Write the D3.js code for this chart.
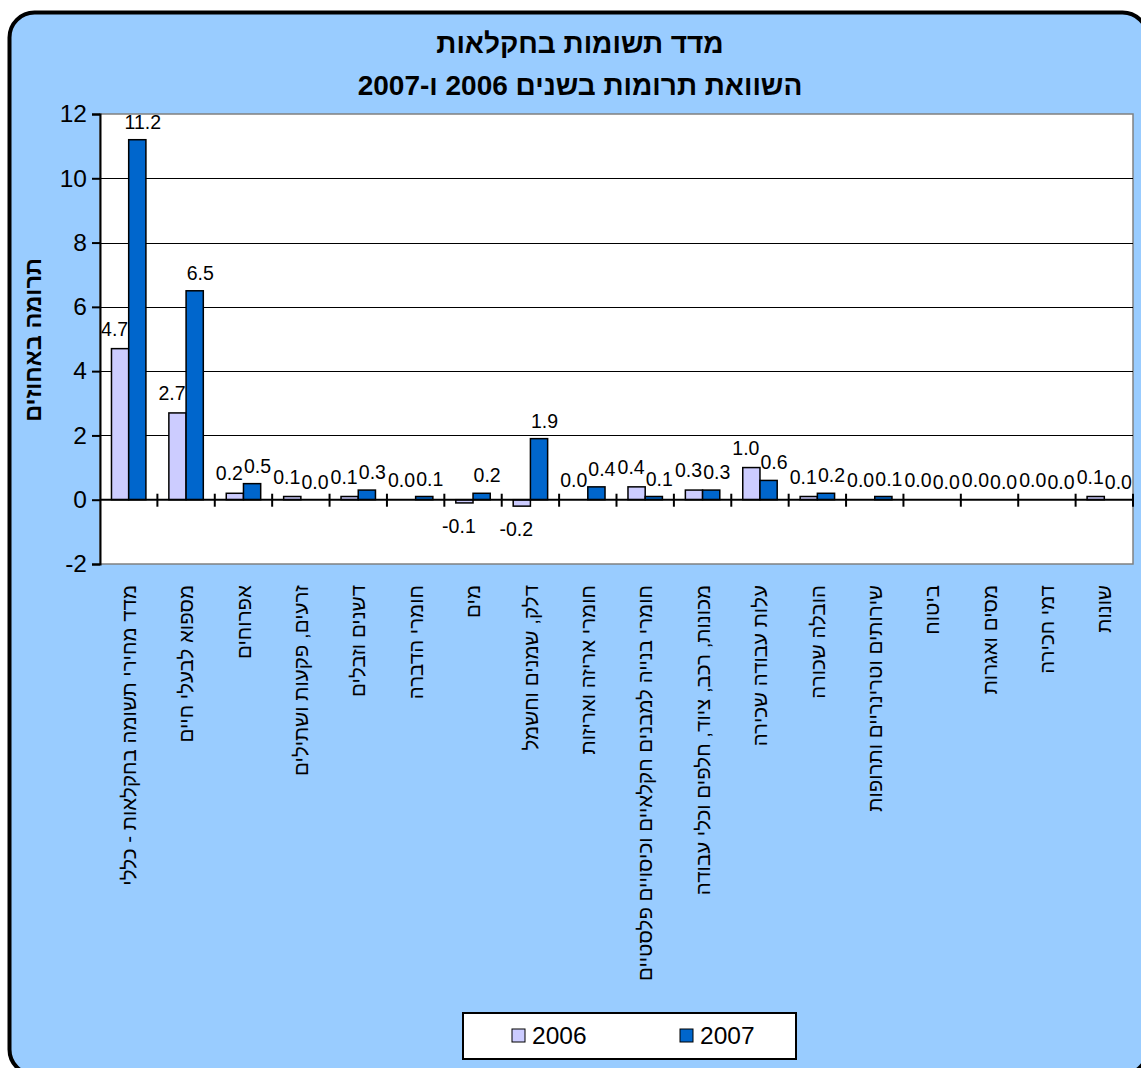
<!DOCTYPE html>
<html>
<head>
<meta charset="utf-8">
<script src="https://cdn.jsdelivr.net/npm/d3@7"></script>
<style>
  html, body { margin: 0; padding: 0; background: #ffffff; }
  svg { display: block; }
  text { font-family: "Liberation Sans", Arial, sans-serif; }
</style>
</head>
<body>
<svg id="chart" width="1141" height="1068"></svg>
<script>
const titleLines = ["מדד תשומות בחקלאות", "השוואת תרומות בשנים 2006 ו-2007"];
const yAxisTitle = "תרומה באחוזים";
const categories = [
  "מדד מחירי תשומה בחקלאות - כללי",
  "מספוא לבעלי חיים",
  "אפרוחים",
  "זרעים, פקעות ושתילים",
  "דשנים וזבלים",
  "חומרי הדברה",
  "מים",
  "דלק, שמנים וחשמל",
  "חומרי אריזה ואריזות",
  "חומרי בנייה למבנים חקלאיים וכיסויים פלסטיים",
  "מכונות, רכב, ציוד, חלפים וכלי עבודה",
  "עלות עבודה שכירה",
  "הובלה שכורה",
  "שירותים וטרינריים ותרופות",
  "ביטוח",
  "מסים ואגרות",
  "דמי חכירה",
  "שונות"
];
const seriesNames = ["2006", "2007"];
const values2006 = [4.7, 2.7, 0.2, 0.1, 0.1, 0.0, -0.1, -0.2, 0.0, 0.4, 0.3, 1.0, 0.1, 0.0, 0.0, 0.0, 0.0, 0.1];
const values2007 = [11.2, 6.5, 0.5, 0.0, 0.3, 0.1, 0.2, 1.9, 0.4, 0.1, 0.3, 0.6, 0.2, 0.1, 0.0, 0.0, 0.0, 0.0];
const yTicks = [-2, 0, 2, 4, 6, 8, 10, 12];
const seriesColors = ["#CCCCFF", "#0066CC"];

const svg = d3.select("#chart");

// chart area (rounded light-blue panel)
svg.append("rect")
  .attr("x", 9.5).attr("y", 12.5)
  .attr("width", 1138).attr("height", 1062)
  .attr("rx", 25).attr("ry", 25)
  .attr("fill", "#99CCFF")
  .attr("stroke", "#000").attr("stroke-width", 4);

const plot = { left: 100, right: 1133, top: 114, bottom: 564 };

const x = d3.scaleBand().domain(categories)
  .range([plot.left, plot.right]).paddingInner(0.4).paddingOuter(0.2);
const xs = d3.scaleBand().domain(seriesNames).range([0, x.bandwidth()]);
const y = d3.scaleLinear().domain([d3.min(yTicks), d3.max(yTicks)]).range([plot.bottom, plot.top]);

// plot area
svg.append("rect")
  .attr("x", plot.left).attr("y", plot.top)
  .attr("width", plot.right - plot.left).attr("height", plot.bottom - plot.top)
  .attr("fill", "#fff").attr("stroke", "#808080").attr("stroke-width", 1.5);

// gridlines
svg.append("g").selectAll("line")
  .data(yTicks.filter(t => t > 0 && t < d3.max(yTicks)))
  .join("line")
  .attr("x1", plot.left).attr("x2", plot.right)
  .attr("y1", d => Math.round(y(d)) + 0.5).attr("y2", d => Math.round(y(d)) + 0.5)
  .attr("stroke", "#000").attr("stroke-width", 1);

// bars
const data = categories.map((c, i) => ({ cat: c, vals: [values2006[i], values2007[i]] }));
const groups = svg.append("g").selectAll("g")
  .data(data).join("g")
  .attr("transform", d => `translate(${x(d.cat)},0)`);

groups.selectAll("rect")
  .data(d => d.vals.map((v, j) => ({ v, s: seriesNames[j], j })).filter(e => Math.abs(e.v) > 0.0001))
  .join("rect")
  .attr("x", e => xs(e.s))
  .attr("width", xs.bandwidth())
  .attr("y", e => Math.min(y(e.v), y(0)))
  .attr("height", e => Math.abs(y(e.v) - y(0)))
  .attr("fill", e => seriesColors[e.j])
  .attr("stroke", "#000").attr("stroke-width", 1.5);

// data labels (outside end; the two series' labels are spread apart a little)
const labelShift = [-5.5, 5.5];
const labelLift = [13, 11];
groups.selectAll("text.lbl")
  .data(d => d.vals.map((v, j) => ({ v, s: seriesNames[j], j })))
  .join("text").attr("class", "lbl")
  .attr("x", e => xs(e.s) + xs.bandwidth() / 2 + labelShift[e.j])
  .attr("y", e => e.v < 0 ? y(e.v) + 30 : y(e.v) - labelLift[e.j])
  .attr("text-anchor", "middle")
  .attr("font-size", 19.5)
  .attr("fill", "#000")
  .text(e => e.v.toFixed(1));

// category axis at zero
const zeroY = y(0);
svg.append("line")
  .attr("x1", plot.left).attr("x2", plot.right)
  .attr("y1", zeroY).attr("y2", zeroY)
  .attr("stroke", "#000").attr("stroke-width", 2);
const half = (x.step() - x.bandwidth()) / 2;
svg.append("g").selectAll("line")
  .data(categories)
  .join("line")
  .attr("x1", d => x(d) + x.bandwidth() + half).attr("x2", d => x(d) + x.bandwidth() + half)
  .attr("y1", zeroY - 6).attr("y2", zeroY + 7)
  .attr("stroke", "#000").attr("stroke-width", 2);

// category labels (rotated)
svg.append("g").selectAll("text")
  .data(categories)
  .join("text")
  .attr("transform", d => `translate(${x(d) + x.bandwidth() / 2},585) rotate(-90)`)
  .attr("text-anchor", "end")
  .attr("dy", "0.35em")
  .attr("font-size", 20.5)
  .attr("fill", "#000")
  .text(d => d);

// value axis
const yAxis = svg.append("g")
  .attr("transform", `translate(${plot.left},0)`)
  .call(d3.axisLeft(y).tickValues(yTicks).tickSize(8).tickPadding(5).tickFormat(d => String(d)));
yAxis.select(".domain").attr("stroke", "#000").attr("stroke-width", 2);
yAxis.selectAll(".tick line").attr("stroke", "#000").attr("stroke-width", 2);
yAxis.selectAll(".tick text")
  .attr("font-size", 24.5).attr("fill", "#000")
  .attr("font-family", "\"Liberation Sans\", Arial, sans-serif");

// axis title
svg.append("text")
  .attr("transform", `translate(41,${(plot.top + plot.bottom) / 2 + 1}) rotate(-90)`)
  .attr("text-anchor", "middle")
  .attr("font-size", 23.5).attr("font-weight", "bold")
  .attr("fill", "#000")
  .text(yAxisTitle);

// titles
svg.selectAll("text.title")
  .data(titleLines).join("text").attr("class", "title")
  .attr("x", 580)
  .attr("y", (d, i) => 53 + i * 42)
  .attr("text-anchor", "middle")
  .attr("font-size", 28).attr("font-weight", "bold")
  .attr("fill", "#000")
  .text(d => d);

// legend
const lg = svg.append("g");
lg.append("rect")
  .attr("x", 463).attr("y", 1013).attr("width", 333).attr("height", 46)
  .attr("fill", "#fff").attr("stroke", "#000").attr("stroke-width", 2);
const legendX = d3.scalePoint().domain(seriesNames).range([512, 680]);
const items = lg.selectAll("g.item").data(seriesNames).join("g").attr("class", "item")
  .attr("transform", d => `translate(${legendX(d)},1029)`);
items.append("rect")
  .attr("width", 13).attr("height", 13)
  .attr("fill", (d, i) => seriesColors[i])
  .attr("stroke", "#000").attr("stroke-width", 1);
items.append("text")
  .attr("x", 20).attr("y", 14.5)
  .attr("font-size", 24.5).attr("fill", "#000")
  .text(d => d);
</script>
</body>
</html>
